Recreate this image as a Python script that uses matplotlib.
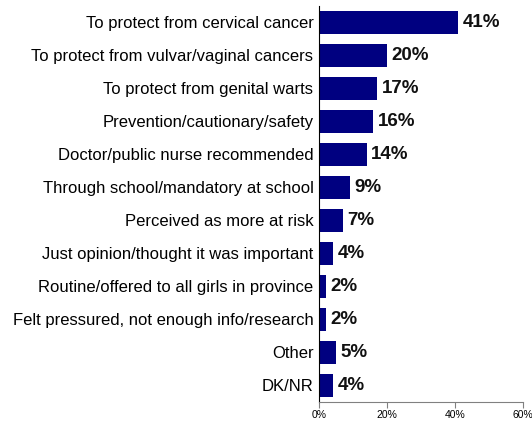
import matplotlib.pyplot as plt

# Data
reasons = [
    'To protect from cervical cancer',
    'To protect from vulvar/vaginal cancers',
    'To protect from genital warts',
    'Prevention/cautionary/safety',
    'Doctor/public nurse recommended',
    'Through school/mandatory at school',
    'Perceived as more at risk',
    'Just opinion/thought it was important',
    'Routine/offered to all girls in province',
    'Felt pressured, not enough info/research',
    'Other',
    'DK/NR',
]
values = [41, 20, 17, 16, 14, 9, 7, 4, 2, 2, 5, 4]
xticks = [0, 20, 40, 60]

plt.rcParams['font.family'] = ['Liberation Sans', 'DejaVu Sans']

fig = plt.figure(figsize=(5.32, 4.23), dpi=100)
ax = fig.add_axes([0.5996, 0.0501, 0.3834, 0.9359])

ypos = list(range(len(reasons)))
ax.barh(ypos, values, height=0.68, color='#000080')
ax.set_ylim(len(reasons) - 0.5, -0.5)
ax.set_xlim(0, 60)

for y, v in zip(ypos, values):
    ax.text(v + 1.4, y, f'{v}%', va='center', ha='left',
            fontsize=13.5, fontweight='bold', color='#111111')

ax.set_yticks(ypos)
ax.set_yticklabels(reasons, fontsize=12)
ax.tick_params(axis='y', length=0, pad=4)

ax.set_xticks(xticks)
ax.set_xticklabels([f'{t}%' for t in xticks], fontsize=7.5)
ax.tick_params(axis='x', length=4, color='#808080', pad=2)

ax.spines['top'].set_visible(False)
ax.spines['right'].set_visible(False)
ax.spines['bottom'].set_color('#808080')
ax.spines['left'].set_color('#000000')

fig.savefig('out.png', dpi=100)
